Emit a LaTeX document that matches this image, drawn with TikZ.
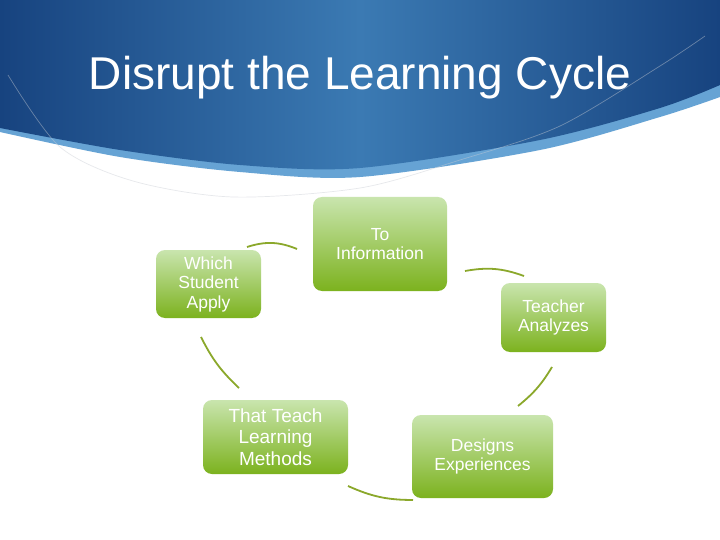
\documentclass[tikz,border=0pt]{standalone}
\usepackage{fontspec}
\setmainfont{Liberation Sans}
\usetikzlibrary{positioning}

\definecolor{hdrdark}{HTML}{17437F}
\definecolor{hdrmid}{HTML}{3B7AB3}
\definecolor{hdrband}{HTML}{66A3D4}
\definecolor{boxtop}{HTML}{C9E5AE}
\definecolor{boxbot}{HTML}{7CB21E}
\definecolor{linkgreen}{HTML}{8BA82B}
\definecolor{swoosh}{HTML}{C9CDD4}

\tikzset{
  stage/.style={rounded corners=9pt, top color=boxtop, bottom color=boxbot,
    text=white, align=center, inner sep=0pt,
    font=\fontsize{17.5}{19.5}\selectfont},
  link/.style={draw=linkgreen, line width=1.8pt}
}

\begin{document}
\begin{tikzpicture}[x=1pt,y=-1pt]
  \useasboundingbox (0,0) rectangle (720,540);
  \fill[white] (0,0) rectangle (720,540);

  % header
  \fill[hdrband] (0,0) -- (720,0) -- (720,97)
    -- plot[smooth] coordinates {(720,97) (660,117) (540,150) (360,177) (240,172) (120,157) (0,132)}
    -- cycle;
  \shade[left color=hdrdark, right color=hdrdark, middle color=hdrmid]
    (0,0) -- (720,0) -- (720,85)
    -- plot[smooth] coordinates {(720,85) (660,108) (540,140) (360,168) (240,165) (120,150) (0,128)}
    -- cycle;
  \draw[swoosh, opacity=0.45, line width=0.7pt]
    plot[smooth] coordinates {(8,75) (60,147) (133,181) (233,197) (360,188) (460,160) (560,126) (660,66) (705,36)};

  \node[text=white, anchor=base, font=\fontsize{46}{50}\selectfont] (title) at (360,90) {Disrupt the Learning Cycle};

  % cycle
  \node[stage, minimum width=134pt, minimum height=94pt] (toinfo) at (380,244) {To\\Information};
  \node[stage, minimum width=105pt, minimum height=69pt] (teacher) at (553.5,317.5) {Teacher\\Analyzes};
  \node[stage, minimum width=141pt, minimum height=83pt] (designs) at (482.5,456.5) {Designs\\Experiences};
  \node[stage, minimum width=145pt, minimum height=74pt, font=\fontsize{19}{21.5}\selectfont] (thatteach) at (275.5,437) {That Teach\\Learning\\Methods};
  \node[stage, minimum width=105pt, minimum height=68pt] (whichst) at (208.5,284) {Which\\Student\\Apply};

  \coordinate (l1s) at (247,247);
  \coordinate (l1e) at (297,249);
  \coordinate (l2s) at (465,271);
  \coordinate (l2e) at (524,276);
  \coordinate (l3s) at (552,367);
  \coordinate (l3e) at (518,406);
  \coordinate (l4s) at (413,500);
  \coordinate (l4e) at (348,486);
  \coordinate (l5s) at (239,388);
  \coordinate (l5e) at (201,337);

  \draw[link] (l1s) to[bend left=20] (l1e);
  \draw[link] (l2s) to[bend left=15] (l2e);
  \draw[link] (l3s) to[bend left=10] (l3e);
  \draw[link] (l4s) to[bend left=12] (l4e);
  \draw[link] (l5s) to[bend left=10] (l5e);
\end{tikzpicture}
\end{document}
